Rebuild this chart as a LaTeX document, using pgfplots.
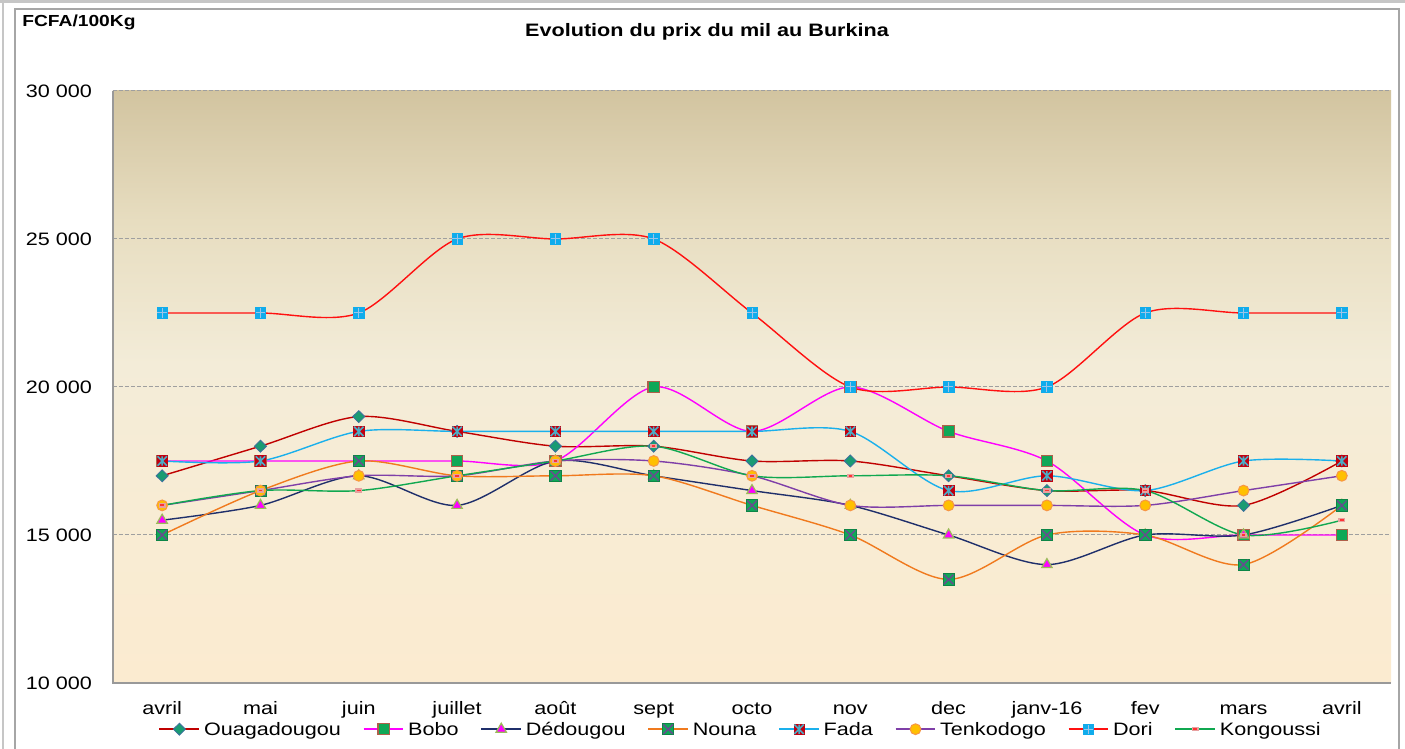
\documentclass[border=0pt]{standalone}
\usepackage{pgfplots}
\pgfplotsset{compat=1.18}
\usepackage{fontspec}
\setmainfont[FakeStretch=1.2]{Liberation Sans}
\definecolor{cOuaga}{HTML}{C00000}
\definecolor{cBobo}{HTML}{FF00FF}
\definecolor{cDedou}{HTML}{1F2F6B}
\definecolor{cNouna}{HTML}{F07A1E}
\definecolor{cFada}{HTML}{1AB0EC}
\definecolor{cTenko}{HTML}{7F3FA8}
\definecolor{cDori}{HTML}{FF1010}
\definecolor{cKong}{HTML}{10A850}
\definecolor{mGreen}{HTML}{0FA857}
\definecolor{mTeal}{HTML}{1A9B73}
\definecolor{mSteel}{HTML}{3F6F9F}
\definecolor{mBrown}{HTML}{B0604A}
\definecolor{mOlive}{HTML}{9BBB59}
\definecolor{mPurp}{HTML}{6A4A90}
\definecolor{mRed}{HTML}{C00010}
\definecolor{mTealX}{HTML}{4BACC6}
\definecolor{mYel}{HTML}{FFC000}
\definecolor{mOra}{HTML}{F79646}
\definecolor{mBlue}{HTML}{10ACEC}
\definecolor{mLBlue}{HTML}{9DC4E8}
\definecolor{mPink}{HTML}{E8A0A0}
\definecolor{bgA}{RGB}{251,235,208}
\definecolor{bgB}{RGB}{248,236,212}
\definecolor{bgC}{RGB}{243,236,216}
\definecolor{bgD}{RGB}{231,221,192}
\definecolor{bgE}{RGB}{210,196,160}
\pgfdeclareverticalshading{milbg}{100bp}{%
  color(0bp)=(bgA); color(25bp)=(bgA); color(40bp)=(bgB); color(52bp)=(bgC); color(64bp)=(bgD); color(75bp)=(bgE); color(100bp)=(bgE)}
\pgfdeclareplotmark{sqxN}{%
  \pgfpathrectangle{\pgfpoint{-\pgfplotmarksize}{-\pgfplotmarksize}}{\pgfpoint{2\pgfplotmarksize}{2\pgfplotmarksize}}%
  \pgfusepathqfillstroke
  \begin{pgfscope}\pgfsetstrokecolor{mPurp}\pgfsetlinewidth{0.7pt}%
  \pgfpathmoveto{\pgfpoint{-0.85\pgfplotmarksize}{-0.85\pgfplotmarksize}}\pgfpathlineto{\pgfpoint{0.85\pgfplotmarksize}{0.85\pgfplotmarksize}}%
  \pgfpathmoveto{\pgfpoint{-0.85\pgfplotmarksize}{0.85\pgfplotmarksize}}\pgfpathlineto{\pgfpoint{0.85\pgfplotmarksize}{-0.85\pgfplotmarksize}}%
  \pgfusepathqstroke\end{pgfscope}}
\pgfdeclareplotmark{sqxF}{%
  \pgfpathrectangle{\pgfpoint{-\pgfplotmarksize}{-\pgfplotmarksize}}{\pgfpoint{2\pgfplotmarksize}{2\pgfplotmarksize}}%
  \pgfusepathqfillstroke
  \begin{pgfscope}\pgfsetstrokecolor{mTealX}\pgfsetlinewidth{0.8pt}%
  \pgfpathmoveto{\pgfpoint{-0.9\pgfplotmarksize}{-0.9\pgfplotmarksize}}\pgfpathlineto{\pgfpoint{0.9\pgfplotmarksize}{0.9\pgfplotmarksize}}%
  \pgfpathmoveto{\pgfpoint{-0.9\pgfplotmarksize}{0.9\pgfplotmarksize}}\pgfpathlineto{\pgfpoint{0.9\pgfplotmarksize}{-0.9\pgfplotmarksize}}%
  \pgfpathmoveto{\pgfpoint{0pt}{-0.9\pgfplotmarksize}}\pgfpathlineto{\pgfpoint{0pt}{0.9\pgfplotmarksize}}%
  \pgfusepathqstroke\end{pgfscope}}
\pgfdeclareplotmark{sqpD}{%
  \pgfpathrectangle{\pgfpoint{-\pgfplotmarksize}{-\pgfplotmarksize}}{\pgfpoint{2\pgfplotmarksize}{2\pgfplotmarksize}}%
  \pgfusepathqfillstroke
  \begin{pgfscope}\pgfsetstrokecolor{mLBlue}\pgfsetlinewidth{0.5pt}%
  \pgfpathmoveto{\pgfpoint{-0.9\pgfplotmarksize}{0pt}}\pgfpathlineto{\pgfpoint{0.9\pgfplotmarksize}{0pt}}%
  \pgfpathmoveto{\pgfpoint{0pt}{-0.9\pgfplotmarksize}}\pgfpathlineto{\pgfpoint{0pt}{0.9\pgfplotmarksize}}%
  \pgfusepathqstroke\end{pgfscope}}
\pgfdeclareplotmark{kong}{%
  \pgfpathrectangle{\pgfpoint{-1.8pt}{-1.1pt}}{\pgfpoint{3.6pt}{2.2pt}}%
  \pgfusepathqfill
  \begin{pgfscope}\pgfsetfillcolor{red!80}%
  \pgfpathrectangle{\pgfpoint{-0.9pt}{-0.45pt}}{\pgfpoint{1.8pt}{0.9pt}}\pgfusepathqfill\end{pgfscope}}
\begin{document}
\begin{tikzpicture}
\useasboundingbox (0,0) rectangle (702.5pt,374.5pt);
\fill[white] (0,0) rectangle (702.5pt,374.5pt);
\fill[gray!45] (0,373.2pt) rectangle (702.5pt,374.5pt);
\draw[gray!45, line width=0.8pt] (1.5pt,0) -- (1.5pt,374pt);
\draw[gray!70, line width=0.6pt] (7.5pt,-2pt) -- (7.5pt,370pt) -- (699.5pt,370pt) -- (699.5pt,-2pt);
\node[font=\fontsize{8}{9}\selectfont\bfseries, anchor=west, inner sep=0pt] at (11pt,363.5pt) {FCFA/100Kg};
\node[font=\fontsize{9}{10}\selectfont\bfseries] at (353.5pt,358.5pt) {Evolution du prix du mil au Burkina};
\begin{axis}[
  at={(56.5pt,33pt)}, anchor=south west,
  scale only axis, width=639pt, height=296pt,
  xmin=-0.5, xmax=12.5, ymin=10000, ymax=30000,
  xtick={0,...,12},
  xticklabels={avril,mai,juin,juillet,ao\^ut,sept,octo,nov,dec,janv-16,fev,mars,avril},
  ytick={10000,15000,20000,25000,30000},
  yticklabels={10 000,15 000,20 000,25 000,30 000},
  scaled y ticks=false,
  /pgf/number format/assume math mode=true,
  tick label style={font=\fontsize{9}{10}\selectfont},
  xticklabel style={anchor=base, yshift=-16pt},
  yticklabel style={xshift=-7pt},
  major tick length=0pt,
  ymajorgrids,
  grid style={gray!75, dash pattern=on 2pt off 1pt, line width=0.5pt},
  axis line style={draw=none},
  axis background/.style={shading=milbg},
  clip=false,
  every axis plot/.append style={smooth, tension=0.5, line width=0.7pt},
  legend columns=8,
  legend style={at={(0.492,-0.046)}, anchor=north, draw=none, fill=none,
    font=\fontsize{9}{10}\selectfont,
    nodes={text height=1.6ex, text depth=0.4ex},
    /tikz/every even column/.append style={column sep=9pt}},
  legend image code/.code={\draw[mark repeat=2,mark phase=2,sharp plot] plot coordinates {(0cm,0cm) (0.35cm,0cm) (0.7cm,0cm)};},
]
\addplot[cOuaga, mark=diamond*, mark size=3pt, mark options={fill=mTeal, draw=mSteel, line width=0.4pt, xscale=1.35}] coordinates {
(0,17000)(1,18000)(2,19000)(3,18500)(4,18000)(5,18000)(6,17500)(7,17500)(8,17000)(9,16500)(10,16500)(11,16000)(12,17500)};
\addlegendentry{Ouagadougou}
\addplot[cBobo, mark=square*, mark size=2.8pt, mark options={fill=mGreen, draw=mBrown, line width=0.6pt}] coordinates {
(0,17500)(1,17500)(2,17500)(3,17500)(4,17500)(5,20000)(6,18500)(7,20000)(8,18500)(9,17500)(10,15000)(11,15000)(12,15000)};
\addlegendentry{Bobo}
\addplot[cDedou, mark=triangle*, mark size=3pt, mark options={fill=cBobo, draw=mOlive, line width=0.6pt}] coordinates {
(0,15500)(1,16000)(2,17000)(3,16000)(4,17500)(5,17000)(6,16500)(7,16000)(8,15000)(9,14000)(10,15000)(11,15000)(12,16000)};
\addlegendentry{Dédougou}
\addplot[cNouna, mark=sqxN, mark size=2.8pt, mark options={fill=mGreen, draw=mGreen!80!black, line width=0.3pt}] coordinates {
(0,15000)(1,16500)(2,17500)(3,17000)(4,17000)(5,17000)(6,16000)(7,15000)(8,13500)(9,15000)(10,15000)(11,14000)(12,16000)};
\addlegendentry{Nouna}
\addplot[cFada, mark=sqxF, mark size=2.6pt, mark options={fill=mRed, draw=mRed, line width=0.3pt}] coordinates {
(0,17500)(1,17500)(2,18500)(3,18500)(4,18500)(5,18500)(6,18500)(7,18500)(8,16500)(9,17000)(10,16500)(11,17500)(12,17500)};
\addlegendentry{Fada}
\addplot[cTenko, mark=*, mark size=2.7pt, mark options={fill=mYel, draw=mOra, line width=0.5pt}] coordinates {
(0,16000)(1,16500)(2,17000)(3,17000)(4,17500)(5,17500)(6,17000)(7,16000)(8,16000)(9,16000)(10,16000)(11,16500)(12,17000)};
\addlegendentry{Tenkodogo}
\addplot[cDori, mark=sqpD, mark size=2.6pt, mark options={fill=mBlue, draw=mBlue, line width=0.3pt}] coordinates {
(0,22500)(1,22500)(2,22500)(3,25000)(4,25000)(5,25000)(6,22500)(7,20000)(8,20000)(9,20000)(10,22500)(11,22500)(12,22500)};
\addlegendentry{Dori}
\addplot[cKong, mark=kong, mark options={fill=mPink}] coordinates {
(0,16000)(1,16500)(2,16500)(3,17000)(4,17500)(5,18000)(6,17000)(7,17000)(8,17000)(9,16500)(10,16500)(11,15000)(12,15500)};
\addlegendentry{Kongoussi}
\draw[gray!80, line width=0.6pt] (rel axis cs:0,1) -- (rel axis cs:0,0) -- (rel axis cs:1,0);
\end{axis}
\end{tikzpicture}
\end{document}
